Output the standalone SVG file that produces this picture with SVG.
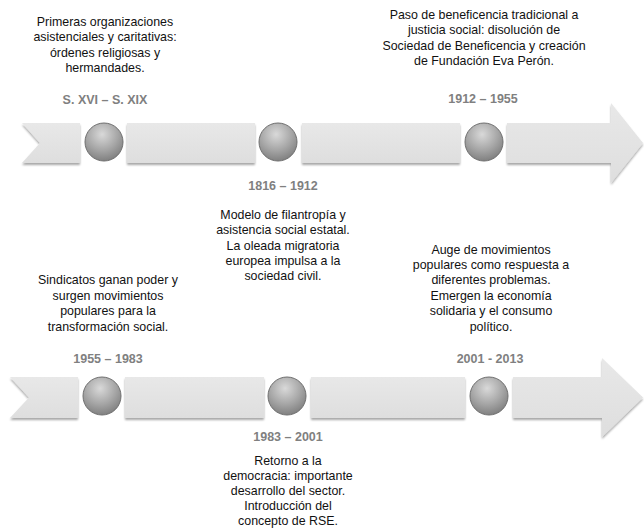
<svg xmlns="http://www.w3.org/2000/svg" width="644" height="529" viewBox="0 0 644 529">
<defs>
<radialGradient id="ball" cx="0.45" cy="0.3" r="0.75">
<stop offset="0" stop-color="#d9d9d9"/>
<stop offset="0.55" stop-color="#a6a6a6"/>
<stop offset="1" stop-color="#7a7a7a"/>
</radialGradient>
<linearGradient id="band" x1="0" y1="0" x2="0" y2="1">
<stop offset="0" stop-color="#e8e8e8"/>
<stop offset="1" stop-color="#dedede"/>
</linearGradient>
<filter id="sh" x="-5%" y="-20%" width="110%" height="150%">
<feGaussianBlur in="SourceAlpha" stdDeviation="1"/>
<feOffset dx="0" dy="2" result="b"/>
<feComponentTransfer><feFuncA type="linear" slope="0.35"/></feComponentTransfer>
<feMerge><feMergeNode/><feMergeNode in="SourceGraphic"/></feMerge>
</filter>
</defs>
<style>
.seg{fill:url(#band);filter:url(#sh)}
.dot{fill:url(#ball);stroke:#6f6f6f;stroke-width:1}
.t{font-family:"Liberation Sans",Arial,sans-serif;font-size:12.4px;fill:#111111;text-anchor:middle}
.d{font-family:"Liberation Sans",Arial,sans-serif;font-size:12.5px;font-weight:bold;fill:#808080;text-anchor:middle}
</style>
<rect width="644" height="529" fill="#ffffff"/>
<g id="connectors">
<g id="band-top">
<polygon class="seg" points="22,123 80,123 80,163 22,163 40,143"/>
<rect class="seg" x="127" y="123" width="128" height="40"/>
<rect class="seg" x="302" y="123" width="158" height="40"/>
<polygon class="seg" points="507,123 611,123 611,103 643,143 611,183 611,163 507,163"/>
</g>
<g id="band-bottom">
<polygon class="seg" points="10,377 78,377 78,418 10,418 29,397.5"/>
<rect class="seg" x="125" y="377" width="139" height="41"/>
<rect class="seg" x="311" y="377" width="154" height="41"/>
<polygon class="seg" points="513,377 602,377 602,358 643,397.5 602,437 602,418 513,418"/>
</g>
</g>
<g id="n1">
<circle class="dot" cx="104" cy="142" r="19"/>
<text class="d" x="105" y="104">S. XVI – S. XIX</text>
<text class="t" x="105"><tspan x="105" y="26">Primeras organizaciones</tspan><tspan x="105" y="41">asistenciales y caritativas:</tspan><tspan x="105" y="57">órdenes religiosas y</tspan><tspan x="105" y="72">hermandades.</tspan></text>
</g>
<g id="n2">
<circle class="dot" cx="278" cy="142" r="19"/>
<text class="d" x="283" y="190">1816 – 1912</text>
<text class="t" x="283"><tspan x="283" y="219">Modelo de filantropía y</tspan><tspan x="283" y="234">asistencia social estatal.</tspan><tspan x="283" y="250">La oleada migratoria</tspan><tspan x="283" y="265">europea impulsa a la</tspan><tspan x="283" y="280">sociedad civil.</tspan></text>
</g>
<g id="n3">
<circle class="dot" cx="484" cy="142" r="19"/>
<text class="d" x="483" y="103">1912 – 1955</text>
<text class="t" x="484"><tspan x="484" y="19">Paso de beneficencia tradicional a</tspan><tspan x="484" y="34">justicia social: disolución de</tspan><tspan x="484" y="50">Sociedad de Beneficencia y creación</tspan><tspan x="484" y="65">de Fundación Eva Perón.</tspan></text>
</g>
<g id="n4">
<circle class="dot" cx="102" cy="396" r="19"/>
<text class="d" x="108" y="363">1955 – 1983</text>
<text class="t" x="108"><tspan x="108" y="284">Sindicatos ganan poder y</tspan><tspan x="108" y="300">surgen movimientos</tspan><tspan x="108" y="315">populares para la</tspan><tspan x="108" y="331">transformación social.</tspan></text>
</g>
<g id="n5">
<circle class="dot" cx="287" cy="396" r="19"/>
<text class="d" x="288" y="441">1983 – 2001</text>
<text class="t" x="288"><tspan x="288" y="465">Retorno a la</tspan><tspan x="288" y="480">democracia: importante</tspan><tspan x="288" y="495">desarrollo del sector.</tspan><tspan x="288" y="510">Introducción del</tspan><tspan x="288" y="525">concepto de RSE.</tspan></text>
</g>
<g id="n6">
<circle class="dot" cx="489" cy="396" r="19"/>
<text class="d" x="490" y="363">2001 - 2013</text>
<text class="t" x="491"><tspan x="491" y="254">Auge de movimientos</tspan><tspan x="491" y="269">populares como respuesta a</tspan><tspan x="491" y="284">diferentes problemas.</tspan><tspan x="491" y="300">Emergen la economía</tspan><tspan x="491" y="315">solidaria y el consumo</tspan><tspan x="491" y="331">político.</tspan></text>
</g>
</svg>
